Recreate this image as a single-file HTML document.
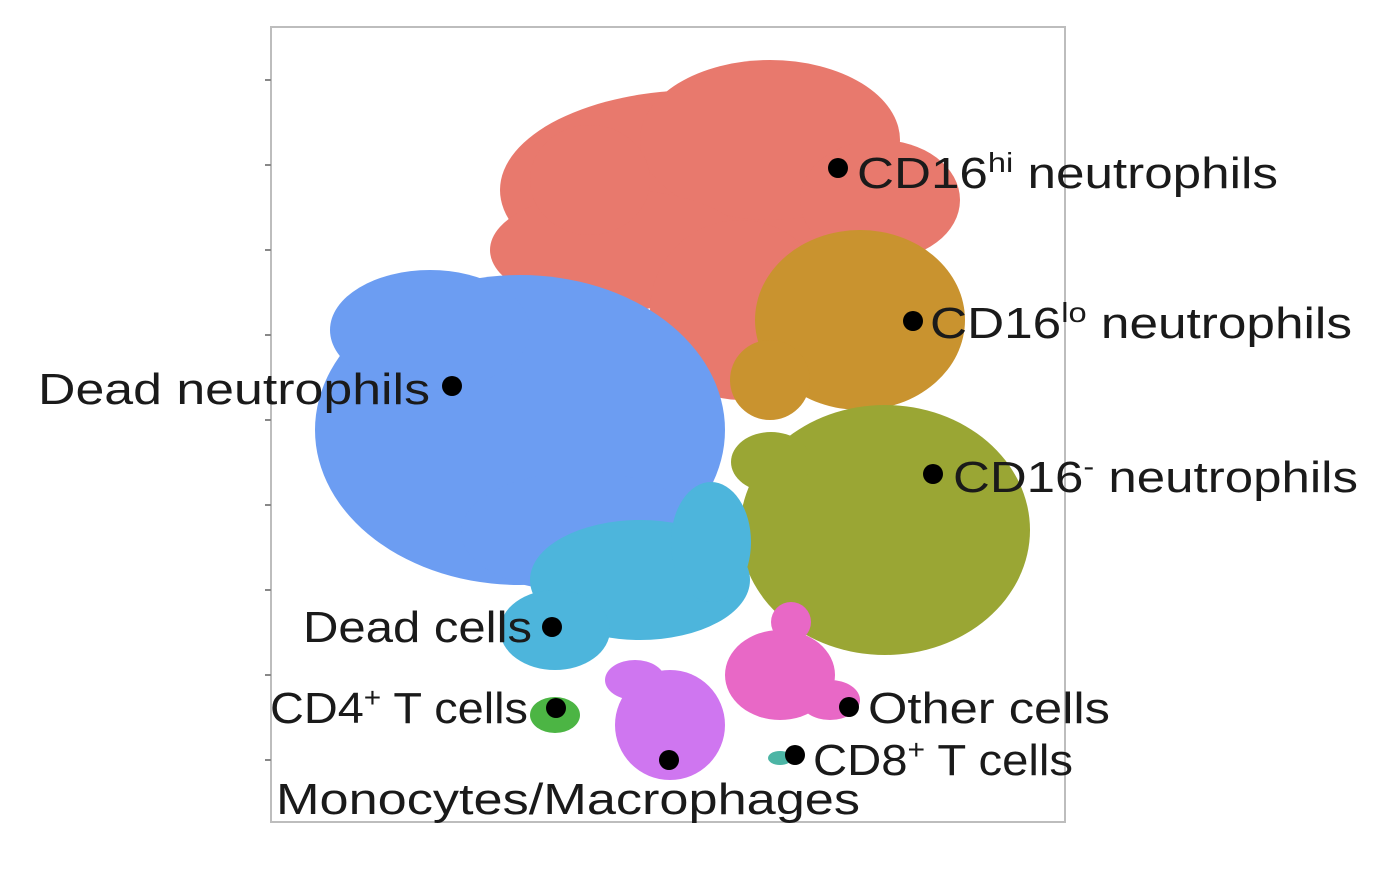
<!DOCTYPE html>
<html><head><meta charset="utf-8"><style>
html,body{margin:0;padding:0;background:#fff;}
svg{display:block;}
text{font-family:"Liberation Sans",sans-serif;fill:#1a1a1a;}
</style></head><body>
<svg id="chart" width="1386" height="872" xmlns="http://www.w3.org/2000/svg">
<rect x="271" y="27" width="794" height="795" fill="none" stroke="#bdbdbd" stroke-width="2"/>
<g id="ticks"></g>
<g id="clusters"></g>
<g id="markers"></g>
<g font-size="44">
<text x="857" y="188" textLength="421" lengthAdjust="spacingAndGlyphs">CD16<tspan dy="-16" font-size="28">hi</tspan><tspan dy="16"> neutrophils</tspan></text>
<text x="930" y="338" textLength="422" lengthAdjust="spacingAndGlyphs">CD16<tspan dy="-16" font-size="28">lo</tspan><tspan dy="16"> neutrophils</tspan></text>
<text x="38" y="404" textLength="392" lengthAdjust="spacingAndGlyphs">Dead neutrophils</text>
<text x="953" y="492" textLength="405" lengthAdjust="spacingAndGlyphs">CD16<tspan dy="-16" font-size="28">-</tspan><tspan dy="16"> neutrophils</tspan></text>
<text x="303" y="642" textLength="229" lengthAdjust="spacingAndGlyphs">Dead cells</text>
<text x="270" y="723" textLength="258" lengthAdjust="spacingAndGlyphs">CD4<tspan dy="-16" font-size="28">+</tspan><tspan dy="16"> T cells</tspan></text>
<text x="868" y="723" textLength="242" lengthAdjust="spacingAndGlyphs">Other cells</text>
<text x="813" y="775" textLength="260" lengthAdjust="spacingAndGlyphs">CD8<tspan dy="-16" font-size="28">+</tspan><tspan dy="16"> T cells</tspan></text>
<text x="276" y="814" textLength="584" lengthAdjust="spacingAndGlyphs">Monocytes/Macrophages</text>
</g>
</svg>
<script>
// data coordinates: x 0..794, y 0..795 (t-SNE embedding units, rescaled)
const clusterNames = ["cd16hi","cd16lo","cd16neg","dead-neutrophils","dead-cells","other-cells","monocytes","cd4","cd8"];
const clusterColors = ["#E8796D","#C9932F","#9AA634","#6C9DF2","#4DB5DC","#E868C6","#CF76F0","#4CB544","#4CB5A5"];
// blob components per cluster: [cx, cy, rx, ry]
const clusterBlobs = [
 [[429,632,200,100],[499,682,130,80],[349,572,130,60],[469,512,90,90],[609,622,80,60],[319,642,60,55]],
 [[589,502,105,90],[499,442,40,40]],
 [[614,292,145,125],[500,360,40,30]],
 [[249,392,205,155],[159,492,100,60],[310,290,120,60]],
 [[369,242,110,60],[284,192,55,40],[440,280,40,60]],
 [[509,147,55,45],[559,122,30,20],[520,200,20,20]],
 [[399,97,55,55],[364,142,30,20]],
 [[284,107,25,18]],
 [[509,64,12,7]]
];
const markerX = [567,642,181,662,281,285,578,524,398];
const markerY = [654,501,436,348,195,114,115,67,62];
const yTicks = [0,85,170,255,340,425,510,595,680];

const X0=271, Y0=822;
const sx = v => X0 + v;
const sy = v => Y0 - v;
const NS="http://www.w3.org/2000/svg";
const cg=document.getElementById('clusters');
clusterBlobs.forEach((blobs,i)=>{
  const g=document.createElementNS(NS,'g');
  
  
  g.setAttribute('fill', clusterColors[i]);
  blobs.forEach(b=>{
    const e=document.createElementNS(NS,'ellipse');
    
    
    e.setAttribute('cx', sx(b[0])); e.setAttribute('cy', sy(b[1]));
    e.setAttribute('rx', b[2]); e.setAttribute('ry', b[3]);
    g.appendChild(e);
  });
  cg.appendChild(g);
});
const mg=document.getElementById('markers');
markerX.forEach((x,i)=>{
  const c=document.createElementNS(NS,'circle');
  
  
  c.setAttribute('cx', sx(x)); c.setAttribute('cy', sy(markerY[i]));
  c.setAttribute('r', 10); c.setAttribute('fill', '#000');
  mg.appendChild(c);
});
const tg=document.getElementById('ticks');
yTicks.forEach(t=>{
  const l=document.createElementNS(NS,'line');
  
  
  l.setAttribute('x1', 265); l.setAttribute('x2', 271);
  l.setAttribute('y1', sy(742-t)); l.setAttribute('y2', sy(742-t));
  l.setAttribute('stroke', '#888'); l.setAttribute('stroke-width', 2);
  tg.appendChild(l);
});
</script>
</body></html>
